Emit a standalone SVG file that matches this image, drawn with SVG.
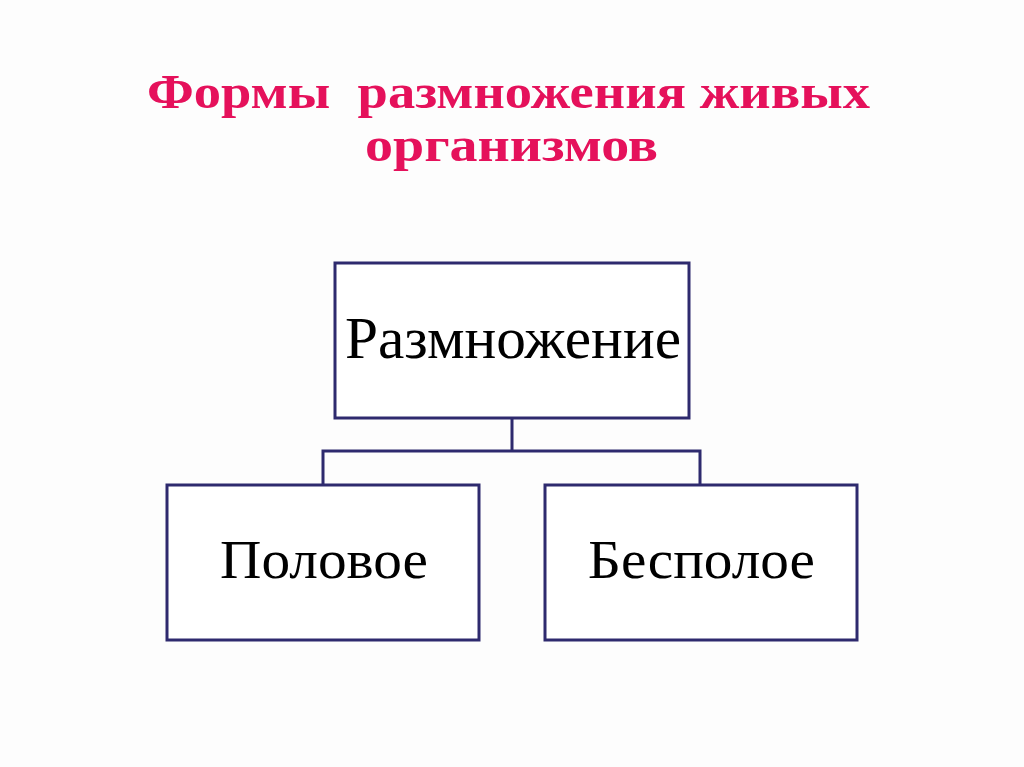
<svg xmlns="http://www.w3.org/2000/svg" width="1024" height="767" viewBox="0 0 1024 767">
<style>
.title{font-family:"Liberation Serif","DejaVu Serif",serif;font-weight:bold;font-size:49px;fill:#E5115B;text-anchor:middle}
.box{fill:#fff;stroke:#2E2A6E;stroke-width:3}
.lbl{font-family:"Liberation Serif","DejaVu Serif",serif;font-size:55px;fill:#000;text-anchor:middle}
.conn{fill:none;stroke:#2E2A6E;stroke-width:3}
</style>
<rect width="1024" height="767" fill="#fdfdfd"/>
<g id="title">
<text class="title" x="508.5" y="108" xml:space="preserve" textLength="723" lengthAdjust="spacingAndGlyphs">Формы  размножения живых</text>
<text class="title" x="511.5" y="161" textLength="293" lengthAdjust="spacingAndGlyphs">организмов</text>
</g>
<g id="connectors">
<path class="conn" d="M512 418 V451 M323 485 V451 H700 V485"/>
</g>
<g id="root">
<rect class="box" x="335" y="263" width="354" height="155"/>
<text class="lbl" x="513" y="358" style="font-size:59px" textLength="336" lengthAdjust="spacingAndGlyphs">Размножение</text>
</g>
<g id="sexual">
<rect class="box" x="167" y="485" width="312" height="155"/>
<text class="lbl" x="324" y="578" textLength="208" lengthAdjust="spacingAndGlyphs">Половое</text>
</g>
<g id="asexual">
<rect class="box" x="545" y="485" width="312" height="155"/>
<text class="lbl" x="701.5" y="578" textLength="227" lengthAdjust="spacingAndGlyphs">Бесполое</text>
</g>
</svg>
